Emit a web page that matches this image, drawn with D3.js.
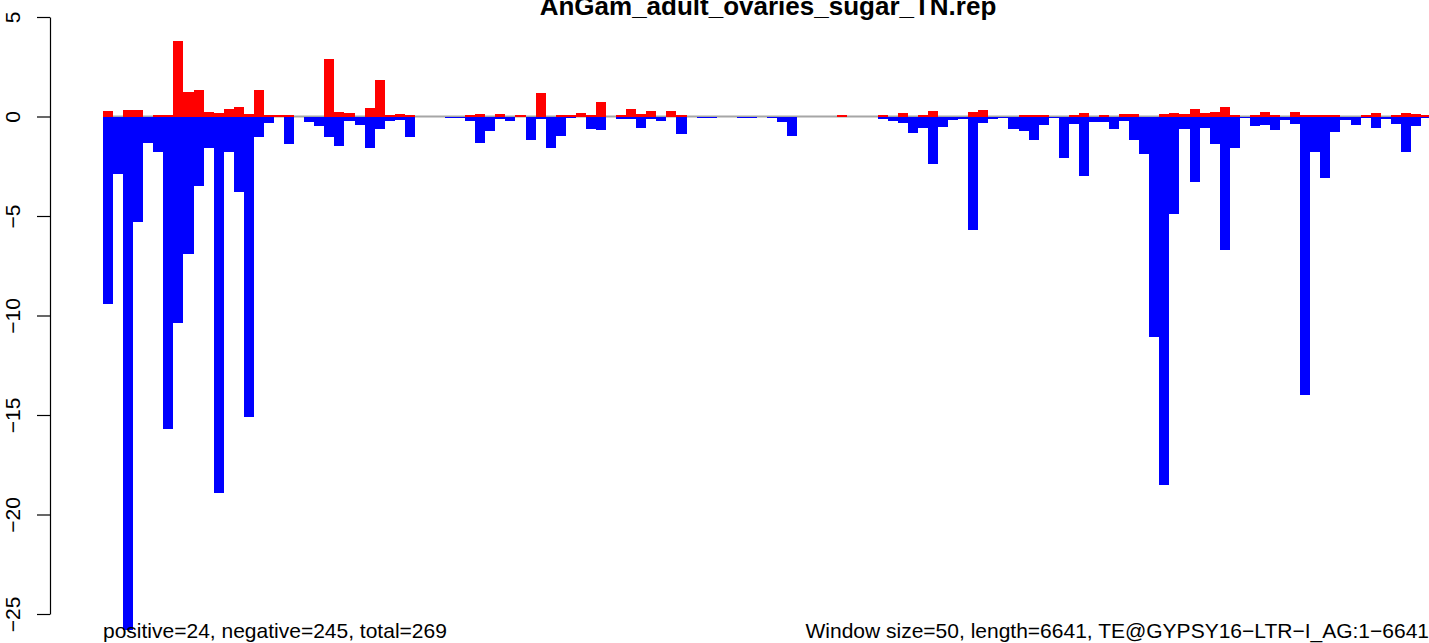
<!DOCTYPE html>
<html>
<head>
<meta charset="utf-8">
<script src="https://cdn.jsdelivr.net/npm/d3@7"></script>
<style>
  html, body { margin: 0; padding: 0; background: #fff; }
  svg { display: block; font-family: 'Liberation Sans', Arial, sans-serif; }
</style>
</head>
<body>
<svg id="chart" width="1429" height="643"></svg>
<script>
// one value per 50 nt window
const positive = [
  0.3, 0, 0.35, 0.35, 0, 0.08, 0.08, 3.8, 1.24, 1.34,
  0.23, 0.18, 0.39, 0.49, 0.12, 1.34, 0.1, 0.08, 0.08, 0,
  0, 0, 2.9, 0.23, 0.18, 0, 0.44, 1.84, 0.08, 0.13,
  0.08, 0, 0, 0, 0, 0, 0.08, 0.13, 0, 0.15,
  0, 0.1, 0, 1.16, 0, 0.1, 0.1, 0.2, 0.1, 0.75,
  0, 0.1, 0.4, 0.15, 0.3, 0, 0.3, 0.1, 0, 0,
  0, 0, 0, 0, 0, 0, 0, 0, 0, 0,
  0, 0, 0, 0.1, 0, 0, 0, 0.1, 0, 0.2,
  0, 0.1, 0.3, 0, 0, 0, 0.25, 0.35, 0, 0,
  0, 0.1, 0.1, 0.1, 0, 0, 0.1, 0.2, 0, 0.1,
  0, 0.15, 0.15, 0, 0, 0.15, 0.2, 0.15, 0.4, 0.2,
  0.25, 0.5, 0.1, 0, 0.1, 0.25, 0.1, 0, 0.25, 0.1,
  0.1, 0.1, 0.1, 0, 0, 0.1, 0.2, 0, 0.1, 0.2,
  0.15, 0.1
]

const negative = [
  -9.4, -2.9, -25.8, -5.3, -1.35, -1.8, -15.7, -10.4, -6.9, -3.5,
  -1.6, -18.9, -1.8, -3.8, -15.1, -1.05, -0.35, 0, -1.36, 0,
  -0.3, -0.5, -1.05, -1.46, -0.25, -0.45, -1.56, -0.65, -0.25, -0.2,
  -1.05, 0, 0, 0, -0.1, -0.1, -0.25, -1.33, -0.75, -0.15,
  -0.25, 0, -1.2, -0.15, -1.56, -1.0, -0.1, 0, -0.65, -0.7,
  0, -0.15, -0.15, -0.6, -0.15, -0.25, 0, -0.9, 0, -0.1,
  -0.1, 0, 0, -0.1, -0.1, 0, -0.1, -0.3, -1.0, 0,
  0, 0, 0, 0, 0, 0, 0, -0.15, -0.25, -0.35,
  -0.85, -0.6, -2.4, -0.55, -0.2, -0.15, -5.7, -0.35, -0.15, -0.1,
  -0.65, -0.75, -1.2, -0.45, -0.1, -2.1, -0.4, -3.0, -0.3, -0.3,
  -0.65, -0.25, -1.2, -1.9, -11.1, -18.5, -4.9, -0.65, -3.3, -0.6,
  -1.4, -6.7, -1.6, -0.1, -0.5, -0.45, -0.7, -0.2, -0.4, -14.0,
  -1.8, -3.1, -0.8, -0.2, -0.45, -0.1, -0.6, -0.15, -0.4, -1.8,
  -0.5, -0.1
]

const yTicks = [5, 0, -5, -10, -15, -20, -25]
const title = 'AnGam_adult_ovaries_sugar_TN.rep'
const leftNote = 'positive=24, negative=245, total=269'
const rightNote = 'Window size=50, length=6641, TE@GYPSY16\u2212LTR\u2212I_AG:1\u22126641'

const svg = d3.select('#chart')

const x = d3.scaleBand()
  .domain(d3.range(positive.length))
  .range([103, 1431])
  .padding(0)

const y = d3.scaleLinear()
  .domain([-25, 5])
  .range([614, 17])

/**
 * Draws the y axis the way R does it: plain line, outside ticks and
 * labels turned parallel to the axis.
 */
function drawAxis () {
  const g = svg.append('g')
    .attr('transform', 'translate(50,0)')
    .call(d3.axisLeft(y)
      .tickValues(yTicks)
      .tickSize(13)
      .tickSizeOuter(0)
      .tickFormat(d => String(d).replace('-', '\u2212')))

  g.select('.domain')
    .attr('stroke', '#000')
    .attr('stroke-width', 1.2)
  g.selectAll('.tick line')
    .attr('stroke', '#000')
    .attr('stroke-width', 1.2)
  g.selectAll('.tick text')
    .attr('x', null)
    .attr('dy', null)
    .attr('transform', 'translate(-30,0) rotate(-90)')
    .attr('text-anchor', 'middle')
    .attr('font-size', '21px')
    .attr('font-family', 'Liberation Sans, Arial, sans-serif')
    .attr('fill', '#000')
}

/**
 * Draws the red (sense) and blue (antisense) bars for every window.
 */
function drawBars () {
  svg.append('line')
    .attr('x1', 103)
    .attr('x2', 1429)
    .attr('y1', y(0))
    .attr('y2', y(0))
    .attr('stroke', '#a6a6a6')
    .attr('stroke-width', 2)

  svg.append('g')
    .selectAll('rect')
    .data(positive)
    .join('rect')
    .attr('x', (d, i) => x(i))
    .attr('width', x.bandwidth())
    .attr('y', d => y(d))
    .attr('height', d => y(0) - y(d))
    .attr('fill', '#ff0000')
    .attr('shape-rendering', 'crispEdges')

  svg.append('g')
    .selectAll('rect')
    .data(negative)
    .join('rect')
    .attr('x', (d, i) => x(i))
    .attr('width', x.bandwidth())
    .attr('y', y(0))
    .attr('height', d => y(d) - y(0))
    .attr('fill', '#0000ff')
    .attr('shape-rendering', 'crispEdges')
}

/**
 * Title on top, summary notes under the plot.
 */
function drawTexts () {
  svg.append('text')
    .attr('x', 768)
    .attr('y', 15)
    .attr('text-anchor', 'middle')
    .attr('font-size', '26px')
    .attr('font-weight', 'bold')
    .text(title)

  svg.append('text')
    .attr('x', 103)
    .attr('y', 638)
    .attr('font-size', '21px')
    .text(leftNote)

  svg.append('text')
    .attr('x', 1429)
    .attr('y', 638)
    .attr('text-anchor', 'end')
    .attr('font-size', '21px')
    .text(rightNote)
}

drawBars()
drawAxis()
drawTexts()
</script>
</body>
</html>
